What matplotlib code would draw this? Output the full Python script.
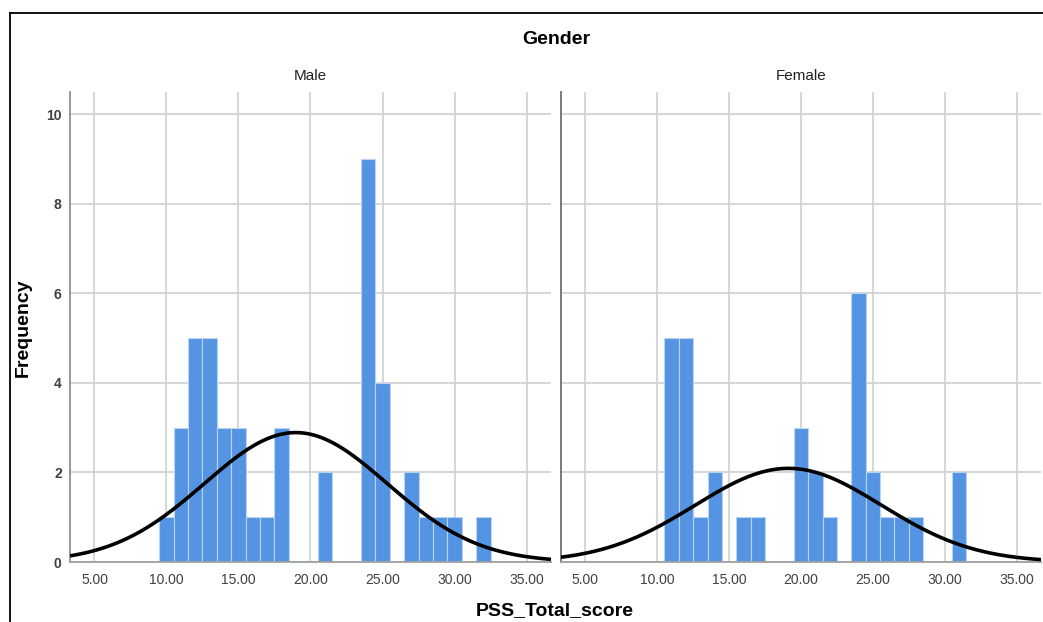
import numpy as np
import matplotlib
matplotlib.use("Agg")
import matplotlib.pyplot as plt
from matplotlib.lines import Line2D

plt.rcParams['font.family'] = ['Liberation Sans', 'DejaVu Sans']

# ---- data ----
male_scores = [10, 11, 12, 13, 14, 15, 16, 17, 18, 21, 24, 25, 27, 28, 29, 30, 32]
male_counts = [1, 3, 5, 5, 3, 3, 1, 1, 3, 2, 9, 4, 2, 1, 1, 1, 1]
female_scores = [11, 12, 13, 14, 16, 17, 20, 21, 22, 24, 25, 26, 27, 28, 31]
female_counts = [5, 5, 1, 2, 1, 1, 3, 2, 1, 6, 2, 1, 1, 1, 2]
panel_titles = ["Male", "Female"]
x_ticks = [5, 10, 15, 20, 25, 30, 35]
y_ticks = [0, 2, 4, 6, 8, 10]

W, H = 1043, 622
fig = plt.figure(figsize=(W / 100, H / 100), dpi=100)

bar_color = '#5594e2'
grid_color = '#d3d3d3'

panels = [
    (male_scores, male_counts, 70, 551),
    (female_scores, female_counts, 561, 1041),
]
top_px, bot_px = 92, 562
xlim = (3.3, 36.7)

for i, ((scores, counts, x0, x1), title) in enumerate(zip(panels, panel_titles)):
    ax = fig.add_axes([x0 / W, 1 - bot_px / H, (x1 - x0) / W, (bot_px - top_px) / H])
    ax.set_xlim(*xlim)
    ax.set_ylim(0, 10.5)
    ax.set_axisbelow(True)
    ax.grid(True, color=grid_color, linewidth=1.3)
    ax.bar(scores, counts, width=1.0, color=bar_color, edgecolor='#b9d3f3',
           linewidth=0.8, zorder=2)
    # normal curve from data
    vals = np.repeat(np.array(scores, float), counts)
    n = len(vals)
    mu = vals.mean()
    sd = vals.std(ddof=1)
    xs = np.linspace(xlim[0], xlim[1], 400)
    ys = n * 1.0 * np.exp(-0.5 * ((xs - mu) / sd) ** 2) / (sd * np.sqrt(2 * np.pi))
    ax.plot(xs, ys, color='black', linewidth=2.6, zorder=3, solid_capstyle='butt')

    ax.set_xticks(x_ticks)
    ax.set_xticklabels([f"{t:.2f}" for t in x_ticks], fontsize=10, color='#404040')
    ax.set_yticks(y_ticks)
    if i == 0:
        ax.set_yticklabels([str(t) for t in y_ticks], fontsize=10, color='#404040',
                           fontweight='bold')
    else:
        ax.set_yticklabels([])
    ax.tick_params(axis='both', length=0)
    ax.tick_params(axis='x', pad=8)
    ax.tick_params(axis='y', pad=6)
    for s in ['top', 'right']:
        ax.spines[s].set_visible(False)
    ax.spines['bottom'].set_color('#a0a0a0')
    ax.spines['bottom'].set_linewidth(1.3)
    ax.spines['left'].set_color('#909090' if i == 0 else '#707070')
    ax.spines['left'].set_linewidth(1.3)

    fig.text(((x0 + x1) / 2) / W, 1 - 76 / H, title, ha='center', va='center',
             fontsize=11, color='#202020')

fig.text(556 / W, 1 - 40 / H, "Gender", ha='center', va='center',
         fontsize=14, fontweight='bold', color='black')
fig.text(555 / W, 1 - 611 / H, "PSS_Total_score", ha='center', va='center',
         fontsize=14, fontweight='bold', color='black')
fig.text(23 / W, 1 - 328 / H, "Frequency", ha='center', va='center', rotation=90,
         fontsize=14, fontweight='bold', color='black')

# outer frame (top and left edges)
fig.add_artist(Line2D([9.5 / W, 9.5 / W], [0, 1 - 12.5 / H], color='black',
                      linewidth=1.3, transform=fig.transFigure))
fig.add_artist(Line2D([9.5 / W, 1], [1 - 12.5 / H, 1 - 12.5 / H], color='black',
                      linewidth=1.3, transform=fig.transFigure))

fig.savefig("out.png", dpi=100)
